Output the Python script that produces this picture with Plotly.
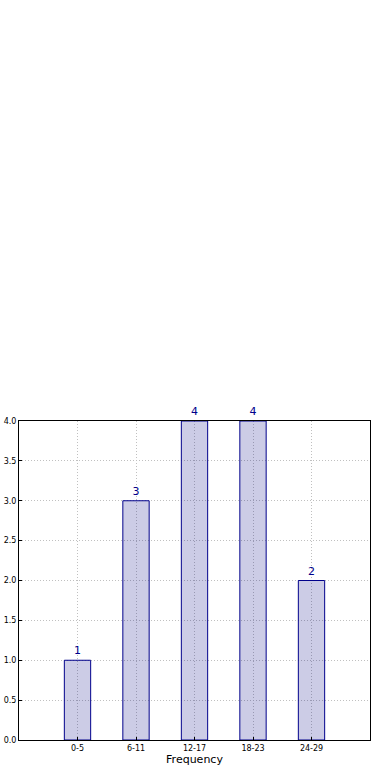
import plotly.graph_objects as go

categories = ["0-5", "6-11", "12-17", "18-23", "24-29"]
counts = [1, 3, 4, 4, 2]
y_ticks = [0.0, 0.5, 1.0, 1.5, 2.0, 2.5, 3.0, 3.5, 4.0]

positions = list(range(len(categories)))

fig = go.Figure()
fig.add_trace(go.Bar(
    x=positions,
    y=counts,
    width=0.45,
    marker=dict(color="rgba(0,0,128,0.2)", line=dict(color="#00008B", width=1)),
    text=[str(c) for c in counts],
    textposition="outside",
    textfont=dict(color="#00008B", size=11, family="DejaVu Sans"),
    cliponaxis=False,
    hoverinfo="skip",
))

fig.update_layout(
    width=390, height=780,
    margin=dict(l=19, r=20, t=421, b=40, autoexpand=False),
    paper_bgcolor="white",
    plot_bgcolor="white",
    showlegend=False,
    font=dict(family="DejaVu Sans", color="black", size=8),
)
fig.update_xaxes(
    automargin=False,
    range=[-1, 5],
    tickvals=positions,
    ticktext=categories,
    tickfont=dict(size=8),
    showgrid=True,
    gridcolor="#c0c0c0",
    griddash="1px,2px",
    gridwidth=1,
    showline=True, linecolor="black", linewidth=1, mirror=True,
    ticks="inside", ticklen=3, tickcolor="black",
    zeroline=False,
    title=dict(text="Frequency", font=dict(size=11), standoff=2),
)
fig.update_yaxes(
    automargin=False,
    range=[0, 4],
    tickvals=y_ticks,
    ticktext=[f"{v:.1f}" for v in y_ticks],
    tickfont=dict(size=8),
    showgrid=True,
    gridcolor="#c0c0c0",
    griddash="1px,2px",
    gridwidth=1,
    showline=True, linecolor="black", linewidth=1, mirror=True,
    ticks="inside", ticklen=3, tickcolor="black",
    zeroline=False,
)

fig.write_html(
    "out.html",
    config={"displayModeBar": False},
    post_script="document.body.style.margin='0';document.body.style.padding='0';",
)
